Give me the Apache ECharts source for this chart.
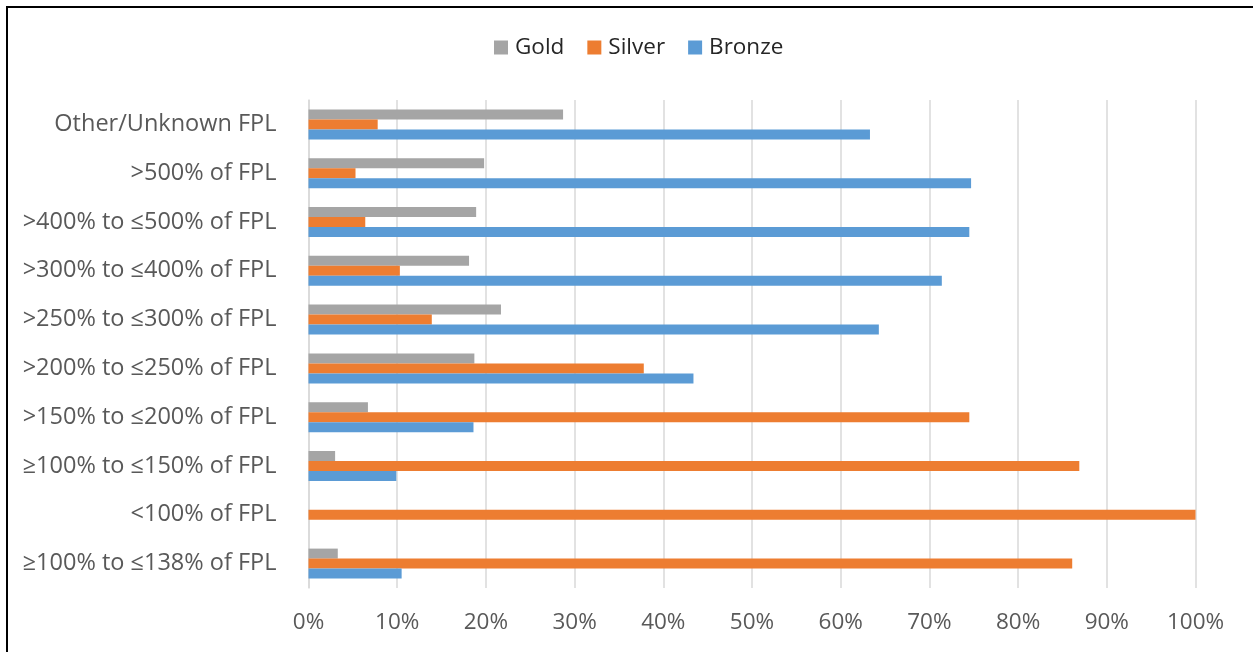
<!DOCTYPE html>
<html>
<head>
<meta charset="utf-8">
<script src="https://cdn.jsdelivr.net/npm/echarts@6/dist/echarts.min.js"></script>
<style>
  html, body { margin: 0; padding: 0; background: #fff; }
  #chart { width: 1253px; height: 652px; }
</style>
</head>
<body>
<div id="chart"></div>
<script>
// Income brackets, listed top to bottom
const categories = [
  'Other/Unknown FPL',
  '>500% of FPL',
  '>400% to \u2264500% of FPL',
  '>300% to \u2264400% of FPL',
  '>250% to \u2264300% of FPL',
  '>200% to \u2264250% of FPL',
  '>150% to \u2264200% of FPL',
  '\u2265100% to \u2264150% of FPL',
  '<100% of FPL',
  '\u2265100% to \u2264138% of FPL'
];

// Share of enrollees by metal tier (percent)
const gold   = [28.7, 19.8, 18.9, 18.1, 21.7, 18.7, 6.7, 3.0, 0, 3.3];
const silver = [7.8, 5.3, 6.4, 10.3, 13.9, 37.8, 74.5, 86.9, 100, 86.1];
const bronze = [63.3, 74.7, 74.5, 71.4, 64.3, 43.4, 18.6, 9.9, 0, 10.5];

const xTicks = [0, 10, 20, 30, 40, 50, 60, 70, 80, 90, 100];

const FONT = 'Open Sans';
const TEXT = '#595959';

const chart = echarts.init(document.getElementById('chart'));

function barSeries(name, data, color) {
  return {
    name: name,
    type: 'bar',
    data: data,
    barWidth: 10,
    barGap: '0%',
    itemStyle: { color: color },
    emphasis: { disabled: true }
  };
}

chart.setOption({
  animation: false,
  textStyle: { fontFamily: FONT },
  legend: {
    top: 31,
    left: 489,
    data: ['Gold', 'Silver', 'Bronze'],
    icon: 'rect',
    itemWidth: 14,
    itemHeight: 14,
    itemGap: 23,
    textStyle: { fontFamily: FONT, fontSize: 22.5, color: '#262626', padding: [0, 0, 0, 2] }
  },
  graphic: [{
    type: 'rect',
    silent: true,
    shape: { x: 7, y: 7, width: 1270, height: 700 },
    style: { fill: 'none', stroke: '#000', lineWidth: 2 }
  }],
  grid: { left: 308.5, right: 57.5, top: 100, bottom: 64 },
  xAxis: {
    type: 'value',
    min: 0,
    max: 100,
    interval: 10,
    axisLine: { show: false },
    axisTick: { show: false },
    splitLine: { lineStyle: { color: '#d9d9d9', width: 1.5 } },
    axisLabel: {
      margin: 23,
      fontFamily: FONT,
      fontSize: 22.5,
      color: TEXT,
      formatter: function (v) { return xTicks.indexOf(v) >= 0 ? v + '%' : ''; }
    }
  },
  yAxis: {
    type: 'category',
    inverse: true,
    data: categories,
    axisLine: { show: true, lineStyle: { color: '#d9d9d9', width: 1.5 } },
    axisTick: { show: false },
    axisLabel: { margin: 32, fontFamily: FONT, fontSize: 23.5, color: TEXT }
  },
  series: [
    barSeries('Gold', gold, '#A5A5A5'),
    barSeries('Silver', silver, '#ED7D31'),
    barSeries('Bronze', bronze, '#5B9BD5')
  ]
});
</script>
</body>
</html>
